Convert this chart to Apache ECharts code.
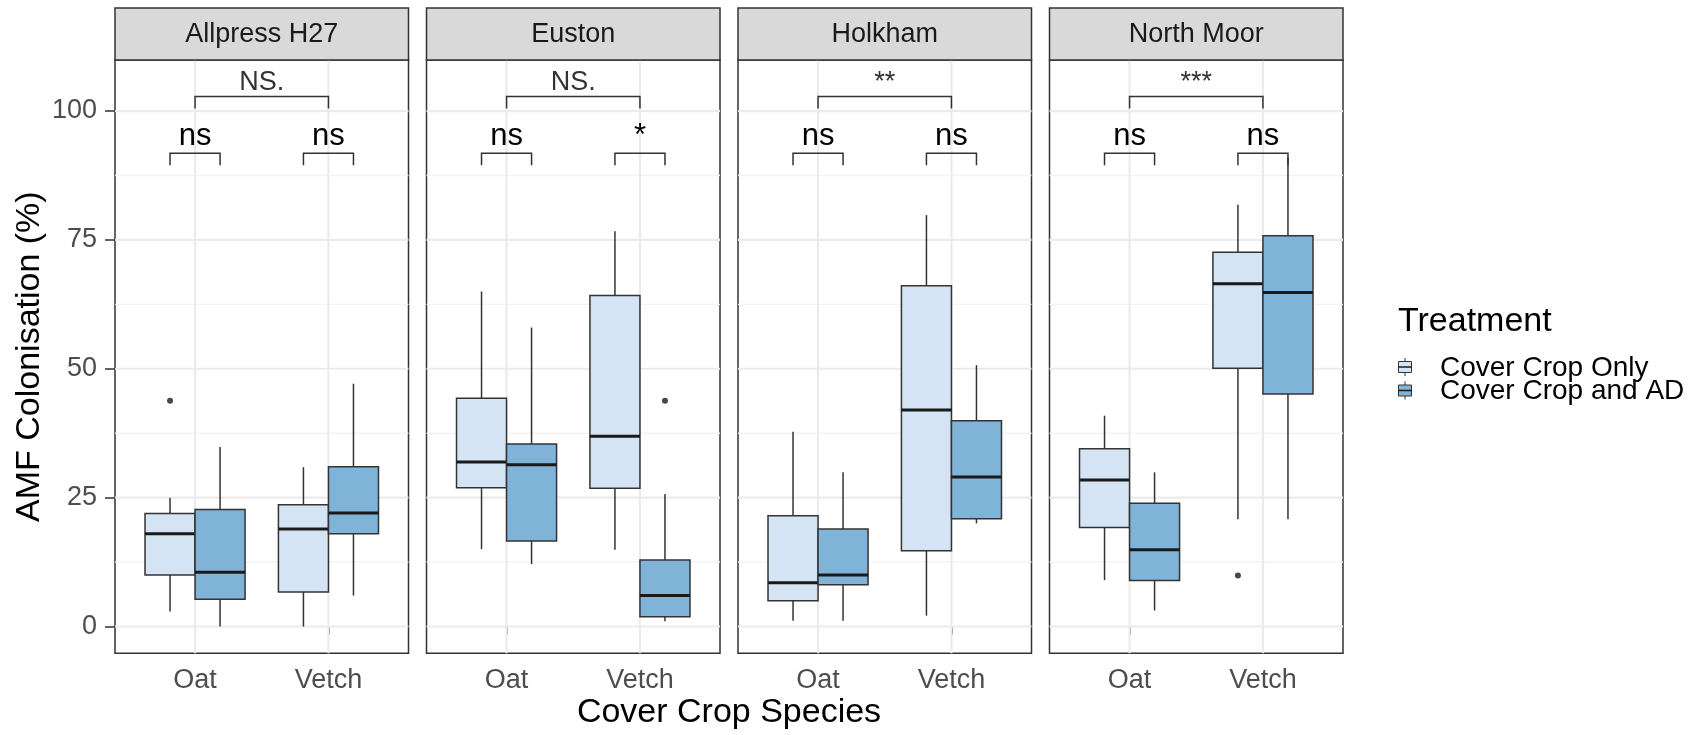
<!DOCTYPE html>
<html>
<head>
<meta charset="utf-8">
<script src="https://cdn.jsdelivr.net/npm/echarts@6/dist/echarts.min.js"></script>
<style>
  html, body { margin: 0; padding: 0; background: #ffffff; }
  #chart { width: 1698px; height: 735px; }
</style>
</head>
<body>
<div id="chart"></div>
<script>
const FONT = '"Liberation Sans", Arial, Helvetica, sans-serif';

// ---- data ---------------------------------------------------------------
const sites = ['Allpress H27', 'Euston', 'Holkham', 'North Moor'];
const species = ['Oat', 'Vetch'];
const treatments = ['Cover Crop Only', 'Cover Crop and AD'];

// Box statistics per site, per species: [lower whisker, Q1, median, Q3, upper whisker]
const coverOnlyStats = [
  [[2.9, 10.0, 18.0, 21.9, 25.0], [0.0, 6.7, 18.9, 23.6, 30.9]],
  [[15.0, 26.9, 31.9, 44.3, 65.0], [14.9, 26.8, 36.9, 64.2, 76.7]],
  [[1.1, 5.0, 8.5, 21.5, 37.8], [2.1, 14.7, 42.0, 66.1, 79.8]],
  [[9.0, 19.2, 28.4, 34.5, 40.9], [20.8, 50.1, 66.5, 72.6, 81.8]]
];
const coverAdStats = [
  [[0.0, 5.3, 10.5, 22.7, 34.8], [6.0, 18.0, 22.0, 31.0, 47.1]],
  [[12.1, 16.6, 31.4, 35.4, 58.0], [1.0, 1.9, 6.0, 12.9, 25.7]],
  [[1.1, 8.1, 10.0, 18.9, 29.9], [20.0, 20.9, 29.0, 39.9, 50.7]],
  [[3.1, 8.9, 14.9, 23.9, 29.9], [20.8, 45.1, 64.8, 75.8, 91.0]]
];
// Outlying points: [site index, species index, treatment index, value]
const outlierPoints = [
  [0, 0, 0, 43.8],
  [1, 1, 1, 43.8],
  [3, 1, 0, 9.9]
];

// Significance labels: treatment comparison within each species, and Oat vs Vetch
const treatmentSigLabels = [['ns', 'ns'], ['ns', '*'], ['ns', 'ns'], ['ns', 'ns']];
const speciesSigLabels = ['NS.', 'NS.', '**', '***'];
const treatmentSigLevel = 91.8;
const speciesSigLevel = 102.8;

// Axis ticks
const yMajorTicks = [0, 25, 50, 75, 100];
const yMinorTicks = [12.5, 37.5, 62.5, 87.5];

// ---- layout & style -----------------------------------------------------
const Y_MIN = -5.2, Y_MAX = 109.9;
const X_MIN = 0.4, X_MAX = 2.6;
const DODGE = 0.1875;      // offset of each box from its species position
const BOX_HALF = 0.1875;   // half box width, in axis units
const PANEL = { left: 115, top: 60, width: 293.5, height: 593.3, gap: 18, stripTop: 8 };
const fills = ['#D4E4F4', '#80B3D8'];
const INK = '#333333';

const statsByTreatment = [coverOnlyStats, coverAdStats];

const grid = [], xAxis = [], yAxis = [], series = [], graphic = [];

sites.forEach((site, i) => {
  const left = PANEL.left + i * (PANEL.width + PANEL.gap);

  grid.push({
    left: left, top: PANEL.top, width: PANEL.width, height: PANEL.height,
    show: true, backgroundColor: '#ffffff', borderColor: INK, borderWidth: 1.5
  });

  xAxis.push({
    type: 'value', gridIndex: i, min: X_MIN, max: X_MAX,
    axisLine: { show: false },
    splitLine: { show: false },
    axisTick: { show: true, customValues: [1, 2], length: 8, lineStyle: { color: INK, width: 1.5 } },
    axisLabel: {
      customValues: [1, 2],
      formatter: v => species[Math.round(v) - 1] || '',
      fontSize: 27, color: '#4D4D4D', fontFamily: FONT, margin: 14
    }
  });

  yAxis.push({
    type: 'value', gridIndex: i, min: Y_MIN, max: Y_MAX,
    axisLine: { show: false },
    splitLine: { show: false },
    axisTick: { show: i === 0, customValues: yMajorTicks, length: 10, lineStyle: { color: INK, width: 1.5 } },
    axisLabel: {
      show: i === 0, customValues: yMajorTicks,
      fontSize: 27, color: '#4D4D4D', fontFamily: FONT, margin: 18
    },
    name: i === 0 ? 'AMF Colonisation (%)' : '',
    nameLocation: 'middle', nameGap: 68,
    nameTextStyle: { fontSize: 34, color: '#000000', fontFamily: FONT }
  });

  // panel grid lines: [x, y, kind] kind 0 = major horizontal, 1 = minor horizontal, 2 = vertical
  const gridLineData = []
    .concat(yMajorTicks.map(v => [1, v, 0]))
    .concat(yMinorTicks.map(v => [1, v, 1]))
    .concat(species.map((s, j) => [j + 1, 50, 2]));
  series.push({
    type: 'custom', xAxisIndex: i, yAxisIndex: i, z: 1, silent: true,
    data: gridLineData,
    renderItem: (params, api) => {
      const cs = params.coordSys;
      const kind = api.value(2);
      if (kind === 2) {
        const x = api.coord([api.value(0), 0])[0];
        return { type: 'line', shape: { x1: x, y1: cs.y, x2: x, y2: cs.y + cs.height },
                 style: { stroke: '#EBEBEB', lineWidth: 2.2 } };
      }
      const y = api.coord([1, api.value(1)])[1];
      return { type: 'line', shape: { x1: cs.x, y1: y, x2: cs.x + cs.width, y2: y },
               style: { stroke: kind === 0 ? '#EBEBEB' : '#F3F3F3', lineWidth: kind === 0 ? 2.2 : 1.4 } };
    }
  });

  // boxes, one series per treatment
  treatments.forEach((tName, t) => {
    const offset = t === 0 ? -DODGE : DODGE;
    series.push({
      name: tName, type: 'custom', xAxisIndex: i, yAxisIndex: i, z: 3,
      data: species.map((s, j) => [j + 1].concat(statsByTreatment[t][i][j])),
      encode: { x: 0, y: [1, 2, 3, 4, 5] },
      renderItem: (params, api) => {
        const xc = api.value(0) + offset;
        const px = v => api.coord([xc, v])[1];
        const cx = api.coord([xc, 0])[0];
        const x0 = api.coord([xc - BOX_HALF, 0])[0];
        const x1 = api.coord([xc + BOX_HALF, 0])[0];
        const lo = px(api.value(1)), q1 = px(api.value(2)), med = px(api.value(3)),
              q3 = px(api.value(4)), hi = px(api.value(5));
        return {
          type: 'group',
          children: [
            { type: 'line', shape: { x1: cx, y1: hi, x2: cx, y2: q3 }, style: { stroke: INK, lineWidth: 1.5 } },
            { type: 'line', shape: { x1: cx, y1: q1, x2: cx, y2: lo }, style: { stroke: INK, lineWidth: 1.5 } },
            { type: 'rect', shape: { x: x0, y: q3, width: x1 - x0, height: q1 - q3 },
              style: { fill: fills[t], stroke: INK, lineWidth: 1.5 } },
            { type: 'line', shape: { x1: x0, y1: med, x2: x1, y2: med }, style: { stroke: '#1A1A1A', lineWidth: 3 } }
          ]
        };
      }
    });
  });

  // outlying points
  series.push({
    type: 'scatter', xAxisIndex: i, yAxisIndex: i, z: 4,
    symbol: 'circle', symbolSize: 6,
    itemStyle: { color: '#1A1A1A' },
    data: outlierPoints.filter(p => p[0] === i)
      .map(p => [p[1] + 1 + (p[2] === 0 ? -DODGE : DODGE), p[3]])
  });

  // significance brackets
  const brackets = [
    { x1: 1 - DODGE, x2: 1 + DODGE, y: treatmentSigLevel, label: treatmentSigLabels[i][0], outer: false },
    { x1: 2 - DODGE, x2: 2 + DODGE, y: treatmentSigLevel, label: treatmentSigLabels[i][1], outer: false },
    { x1: 1, x2: 2, y: speciesSigLevel, label: speciesSigLabels[i], outer: true }
  ];
  series.push({
    type: 'custom', xAxisIndex: i, yAxisIndex: i, z: 5, silent: true,
    data: brackets.map(b => [b.x1, b.y, b.x2]),
    renderItem: (params, api) => {
      const b = brackets[params.dataIndex];
      const p1 = api.coord([api.value(0), api.value(1)]);
      const p2 = api.coord([api.value(2), api.value(1)]);
      const tip = 12;
      return {
        type: 'group',
        children: [
          { type: 'polyline',
            shape: { points: [[p1[0], p1[1] + tip], [p1[0], p1[1]], [p2[0], p2[1]], [p2[0], p2[1] + tip]] },
            style: { stroke: INK, lineWidth: 1.5, fill: null } },
          { type: 'text',
            style: {
              text: b.label, x: (p1[0] + p2[0]) / 2, y: p1[1] - 1,
              align: 'center', verticalAlign: 'bottom',
              font: (b.outer ? '27px ' : '31px ') + FONT,
              fill: b.outer ? '#333333' : '#000000'
            } }
        ]
      };
    }
  });

  // facet strip
  graphic.push({
    type: 'rect', z: 10,
    shape: { x: left, y: PANEL.stripTop, width: PANEL.width, height: PANEL.top - PANEL.stripTop },
    style: { fill: '#D9D9D9', stroke: INK, lineWidth: 1.5 }
  });
  graphic.push({
    type: 'text', z: 11,
    style: {
      text: site, x: left + PANEL.width / 2, y: (PANEL.stripTop + PANEL.top) / 2 + 1,
      align: 'center', verticalAlign: 'middle', font: '27px ' + FONT, fill: '#1A1A1A'
    }
  });
});

// x axis title, centred under the panels
const panelsRight = PANEL.left + sites.length * PANEL.width + (sites.length - 1) * PANEL.gap;
graphic.push({
  type: 'text', z: 11,
  style: {
    text: 'Cover Crop Species', x: (PANEL.left + panelsRight) / 2, y: 713,
    align: 'center', verticalAlign: 'middle', font: '34px ' + FONT, fill: '#000000'
  }
});

// legend
graphic.push({
  type: 'text', z: 11,
  style: { text: 'Treatment', x: 1398, y: 322, align: 'left', verticalAlign: 'middle',
           font: '34px ' + FONT, fill: '#000000' }
});
treatments.forEach((tName, t) => {
  const cy = 367 + t * 23.5;
  const kx = 1398.5, kw = 13, kh = 11, kc = kx + kw / 2;
  graphic.push({
    type: 'group', z: 11,
    children: [
      { type: 'line', shape: { x1: kc, y1: cy - 9, x2: kc, y2: cy + 9 }, style: { stroke: INK, lineWidth: 1 } },
      { type: 'rect', shape: { x: kx, y: cy - kh / 2, width: kw, height: kh },
        style: { fill: fills[t], stroke: INK, lineWidth: 1 } },
      { type: 'line', shape: { x1: kx, y1: cy, x2: kx + kw, y2: cy }, style: { stroke: '#1A1A1A', lineWidth: 1.5 } }
    ]
  });
  graphic.push({
    type: 'text', z: 11,
    style: { text: tName, x: 1440, y: cy + 1, align: 'left', verticalAlign: 'middle',
             font: '28px ' + FONT, fill: '#000000' }
  });
});

const chart = echarts.init(document.getElementById('chart'));
chart.setOption({
  animation: false,
  backgroundColor: '#ffffff',
  textStyle: { fontFamily: FONT },
  grid: grid,
  xAxis: xAxis,
  yAxis: yAxis,
  series: series,
  graphic: graphic
});
</script>
</body>
</html>
